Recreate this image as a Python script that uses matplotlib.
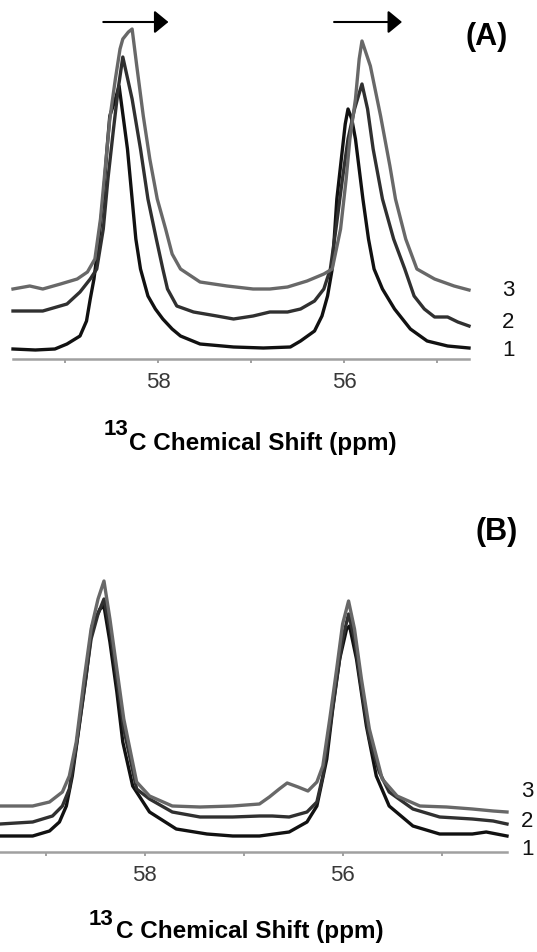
import matplotlib.pyplot as plt
import numpy as np

plt.rcParams['font.family'] = ['Liberation Sans', 'DejaVu Sans']

# Panel (A): chemical shift (ppm) and intensity (arbitrary units) for spectra 1, 2, 3
a1_ppm = [59.56, 59.32, 59.11, 58.98, 58.84, 58.77, 58.73, 58.69, 58.65, 58.59, 58.55, 58.52, 58.46,
          58.42, 58.39, 58.33, 58.28, 58.24, 58.19, 58.11, 58.03, 57.95, 57.85, 57.76, 57.55, 57.19,
          56.87, 56.58, 56.47, 56.32, 56.24, 56.18, 56.13, 56.08, 56.02, 55.99, 55.96, 55.92, 55.88,
          55.84, 55.80, 55.74, 55.68, 55.59, 55.46, 55.29, 55.11, 54.89, 54.66]
a1_int = [10, 9, 10, 15, 23, 38, 60, 80, 110, 160, 210, 243, 260,
          273, 252, 210, 160, 120, 90, 63, 50, 40, 30, 23, 15, 12,
          11, 12, 18, 28, 43, 63, 90, 160, 210, 235, 250, 240, 220,
          190, 160, 120, 90, 70, 50, 30, 18, 13, 11]

a2_ppm = [59.56, 59.24, 58.98, 58.84, 58.73, 58.66, 58.59, 58.54, 58.48, 58.43, 58.38, 58.28, 58.19,
          58.11, 58.02, 57.95, 57.90, 57.80, 57.62, 57.37, 57.19, 56.98, 56.80, 56.61, 56.47, 56.32,
          56.22, 56.15, 56.09, 56.02, 55.96, 55.89, 55.81, 55.75, 55.69, 55.59, 55.47, 55.35, 55.25,
          55.14, 55.03, 54.89, 54.78, 54.66]
a2_int = [48, 48, 55, 67, 80, 90, 130, 180, 230, 270, 302, 260, 210,
          160, 120, 90, 70, 53, 47, 43, 40, 43, 47, 47, 50, 58,
          70, 90, 130, 180, 220, 250, 275, 250, 210, 160, 120, 90, 63,
          50, 42, 42, 37, 33]

a3_ppm = [59.56, 59.38, 59.24, 59.05, 58.87, 58.76, 58.68, 58.62, 58.57, 58.52, 58.46, 58.41, 58.38,
          58.32, 58.28, 58.23, 58.16, 58.09, 58.01, 57.92, 57.85, 57.76, 57.55, 57.26, 56.98, 56.80,
          56.61, 56.40, 56.22, 56.13, 56.04, 55.98, 55.94, 55.88, 55.84, 55.81, 55.72, 55.61, 55.51,
          55.45, 55.34, 55.22, 55.03, 54.82, 54.66]
a3_int = [70, 73, 70, 75, 80, 87, 100, 140, 190, 240, 280, 310, 320,
          327, 330, 293, 243, 200, 160, 130, 105, 90, 77, 73, 70, 70,
          72, 78, 85, 90, 130, 180, 220, 260, 300, 318, 293, 243, 193,
          160, 120, 90, 80, 73, 69]

# Panel (B)
b1_ppm = [59.46, 59.13, 58.96, 58.86, 58.79, 58.73, 58.66, 58.59, 58.53, 58.45, 58.41, 58.35, 58.28,
          58.22, 58.12, 57.95, 57.68, 57.37, 57.11, 56.84, 56.54, 56.36, 56.26, 56.16, 56.10, 56.03,
          55.96, 55.93, 55.86, 55.76, 55.66, 55.53, 55.29, 55.02, 54.69, 54.55, 54.34]
b1_int = [16, 16, 21, 30, 46, 76, 126, 176, 226, 243, 246, 210, 160,
          110, 66, 40, 23, 18, 16, 16, 20, 30, 46, 93, 143, 193,
          223, 226, 193, 126, 76, 46, 26, 18, 18, 20, 16]

b2_ppm = [59.46, 59.13, 58.93, 58.83, 58.76, 58.69, 58.61, 58.54, 58.47, 58.41, 58.35, 58.28, 58.21,
          58.08, 57.95, 57.72, 57.44, 57.11, 56.84, 56.71, 56.54, 56.36, 56.26, 56.20, 56.13, 56.06,
          56.00, 55.94, 55.88, 55.81, 55.73, 55.63, 55.53, 55.29, 55.02, 54.69, 54.48, 54.34]
b2_int = [28, 30, 36, 46, 63, 106, 163, 213, 238, 253, 223, 173, 123,
          63, 53, 40, 35, 35, 36, 36, 35, 40, 50, 76, 123, 173,
          213, 238, 213, 163, 113, 80, 60, 43, 35, 33, 31, 28]

b3_ppm = [59.46, 59.13, 58.96, 58.83, 58.76, 58.69, 58.61, 58.54, 58.47, 58.41, 58.35, 58.28, 58.21,
          58.08, 57.95, 57.72, 57.44, 57.11, 56.84, 56.74, 56.64, 56.56, 56.45, 56.35, 56.26, 56.20,
          56.13, 56.06, 56.00, 55.94, 55.88, 55.81, 55.73, 55.60, 55.45, 55.22, 54.95, 54.69, 54.48,
          54.34]
b3_int = [46, 46, 50, 60, 76, 110, 173, 223, 253, 271, 233, 183, 133,
          70, 56, 46, 45, 46, 48, 55, 63, 69, 65, 61, 70, 86,
          133, 183, 228, 251, 223, 173, 123, 73, 56, 46, 45, 43, 41,
          40]

trace_labels = ['1', '2', '3']
trace_colors = ['#111111', '#303030', '#686868']
major_ticks = [58, 56]
minor_ticks = [59, 57, 55]
axis_label = 'C Chemical Shift (ppm)'
isotope = '13'

W, H = 537, 953
fig = plt.figure(figsize=(W / 100, H / 100), dpi=100)


def px_axes(x0, x1, y_top, y_axis):
    # axes rectangle given in picture pixels
    return fig.add_axes([x0 / W, 1 - y_axis / H, (x1 - x0) / W, (y_axis - y_top) / H])


def style_axis(ax, xlim, ylim):
    ax.set_xlim(*xlim)
    ax.set_ylim(*ylim)
    for s in ['top', 'left', 'right']:
        ax.spines[s].set_visible(False)
    ax.spines['bottom'].set_color('#a0a0a0')
    ax.spines['bottom'].set_linewidth(1.8)
    ax.set_yticks([])
    ax.set_xticks(major_ticks)
    ax.set_xticklabels([str(t) for t in major_ticks])
    ax.set_xticks(minor_ticks, minor=True)
    ax.tick_params(axis='x', which='both', direction='out', length=3, width=1.2,
                   color='#909090', labelsize=16, labelcolor='#383838', pad=6)
    ax.patch.set_alpha(0)


def draw_panel(ax, series, label_x, label_ys, letter, letter_xy):
    for (ppm, inten), c in zip(series, trace_colors):
        ax.plot(ppm, inten, color=c, lw=2.4, solid_joinstyle='round', clip_on=False)
    for lab, y in zip(trace_labels, label_ys):
        fig.text(label_x / W, 1 - y / H, lab, fontsize=16, color='#111111',
                 ha='left', va='center')
    fig.text(letter_xy[0] / W, 1 - letter_xy[1] / H, letter, fontsize=22,
             fontweight='bold', ha='center', va='center')


# (A)
axA = px_axes(13, 469, 0, 360)
style_axis(axA, (59.56, 54.66), (0, 360))
draw_panel(axA, [(a1_ppm, a1_int), (a2_ppm, a2_int), (a3_ppm, a3_int)],
           502, [350, 322, 290], '(A)', (487, 37))
arrow = dict(arrowstyle='-|>,head_length=0.85,head_width=0.7', color='black', lw=1.5,
             shrinkA=0, shrinkB=0)
axA.annotate('', xy=(57.89, 337), xytext=(58.59, 337), arrowprops=arrow, annotation_clip=False)
axA.annotate('', xy=(55.38, 337), xytext=(56.11, 337), arrowprops=arrow, annotation_clip=False)
fig.text(104 / W, 1 - 435 / H, isotope, fontsize=16, fontweight='bold', ha='left', va='baseline')
fig.text(129 / W, 1 - 450 / H, axis_label, fontsize=17.5, fontweight='bold', ha='left', va='baseline')

# (B)
axB = px_axes(0, 507, 553, 853)
style_axis(axB, (59.46, 54.34), (0, 300))
draw_panel(axB, [(b1_ppm, b1_int), (b2_ppm, b2_int), (b3_ppm, b3_int)],
           521, [850, 822, 792], '(B)', (497, 532))
fig.text(89 / W, 1 - 925 / H, isotope, fontsize=16, fontweight='bold', ha='left', va='baseline')
fig.text(116 / W, 1 - 938 / H, axis_label, fontsize=17.5, fontweight='bold', ha='left', va='baseline')

fig.savefig('out.png', dpi=100, facecolor='white')
